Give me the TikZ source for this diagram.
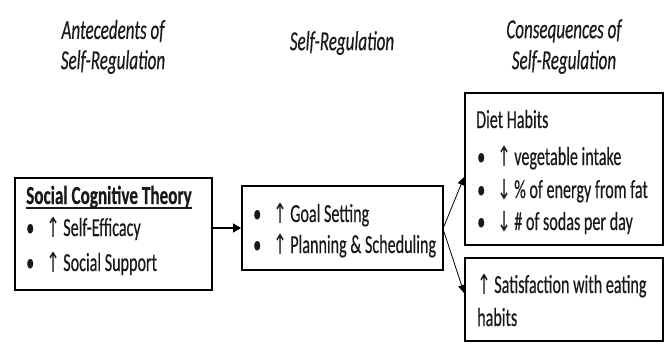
\documentclass[tikz,border=0pt]{standalone}
\usepackage{fontspec}
\usepackage{graphicx}
\setmainfont{Carlito}[FakeStretch=0.62, FakeBold=0.4]
\newfontfamily\arw{DejaVu Sans}[FakeStretch=0.7]
\newfontfamily\ttl{Carlito}[FakeStretch=0.66, FakeBold=0.4]
\usetikzlibrary{arrows.meta}
\newcommand{\up}{\raisebox{-1pt}{\scalebox{1}[1.15]{\arw\fontsize{24}{26}\selectfont ↑}}}
\newcommand{\dn}{\raisebox{-1pt}{\scalebox{1}[1.15]{\arw\fontsize{24}{26}\selectfont ↓}}}
\newcommand{\itm}[2]{\makebox[20pt][l]{•}#1\hspace{3pt}#2}
\begin{document}
\begin{tikzpicture}[x=1pt,y=-1pt,
  box/.style={draw=black, line width=1.8pt, inner sep=0pt, rectangle},
  txt/.style={inner sep=0pt, anchor=base west, font=\fontsize{26}{28}\selectfont, text=black!90},
  head/.style={inner sep=0pt, anchor=center, font=\fontsize{27.5}{28}\selectfont\itshape, text=black!90},
  arr/.style={line width=1.4pt, -{Triangle[length=8pt,width=9pt]}},
  darr/.style={line width=0.8pt, -{Triangle[length=8pt,width=7pt]}}]
\useasboundingbox (0,0) rectangle (666,343);
% headings
\node[head] (h1a) at (113,31) {Antecedents of};
\node[head] (h1b) at (113,62) {Self-Regulation};
\node[head] (h2) at (342,43) {Self-Regulation};
\node[head] (h3a) at (564,31) {Consequences of};
\node[head] (h3b) at (564,62) {Self-Regulation};
% boxes
\node[box, minimum width=197pt, minimum height=112pt] (sct) at (113.5,234) {};
\node[box, minimum width=201pt, minimum height=84pt] (reg) at (342.5,228) {};
\node[box, minimum width=198pt, minimum height=152pt] (diet) at (564,169) {};
\node[box, minimum width=198pt, minimum height=83pt] (sat) at (564,299.5) {};
% box 1 text
\node[txt, font=\fontsize{26}{28}\ttl\bfseries] (t1) at (26,204) {Social Cognitive Theory};
\draw[line width=1.3pt, black!90] ([yshift=-4pt]t1.base west) -- ([yshift=-4pt]t1.base east);
\node[txt] (t1a) at (26,236) {\itm{\up}{Self-Efficacy}};
\node[txt] (t1b) at (26,271) {\itm{\up}{Social Support}};
% box 2 text
\node[txt] (t2a) at (253,222) {\itm{\up}{Goal Setting}};
\node[txt] (t2b) at (253,253) {\itm{\up}{Planning \& Scheduling}};
% diet text
\node[txt] (t3) at (476,128) {Diet Habits};
\node[txt] (t3a) at (477,165) {\itm{\up}{vegetable intake}};
\node[txt] (t3b) at (477,198) {\itm{\dn}{\% of energy from fat}};
\node[txt] (t3c) at (477,230) {\itm{\dn}{\# of sodas per day}};
% satisfaction text
\node[txt] (t4a) at (477,293) {\up\hspace{3pt}Satisfaction with eating};
\node[txt] (t4b) at (477,326) {habits};
% connectors
\draw[arr] (sct.east |- reg.west) -- (reg.west);
\draw[darr] ([yshift=1.5pt]reg.east) -- ([yshift=-8pt]diet.west);
\draw[darr] ([yshift=-3.5pt]reg.east) -- ([yshift=6.5pt]sat.west);
\end{tikzpicture}
\end{document}
